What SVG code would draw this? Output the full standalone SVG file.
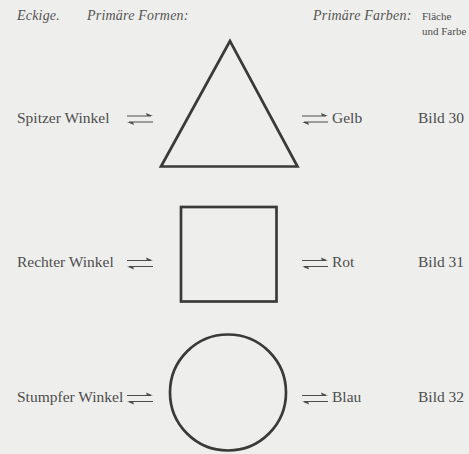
<svg xmlns="http://www.w3.org/2000/svg" width="469" height="454" viewBox="0 0 469 454">
<style>
.t{font-family:"Liberation Serif","DejaVu Serif",serif;font-size:15.5px;fill:#4d4d4d}
.h{font-family:"Liberation Serif","DejaVu Serif",serif;font-size:14px;font-style:italic;fill:#555;letter-spacing:0.2px}
.s{font-family:"Liberation Serif","DejaVu Serif",serif;font-size:11px;fill:#4d4d4d}
.shape{fill:none;stroke:#3a3a3a;stroke-width:2.7}
.arr{stroke:#4d4d4d;stroke-width:1.2;fill:none}
.head{fill:#4d4d4d}
</style>
<rect width="469" height="454" fill="#eeeeec"/>
<g id="header">
<text class="h" x="17" y="20">Eckige.</text>
<text class="h" x="87" y="20">Primäre Formen:</text>
<text class="h" x="313" y="20">Primäre Farben:</text>
<text class="s" x="422" y="20">Fläche</text>
<text class="s" x="422" y="35">und Farbe</text>
</g>
<g id="spitzer-winkel"><text class="t" x="17" y="123">Spitzer Winkel</text></g>
<g id="rechter-winkel"><text class="t" x="17" y="267">Rechter Winkel</text></g>
<g id="stumpfer-winkel"><text class="t" x="17" y="402">Stumpfer Winkel</text></g>
<g id="dreieck"><polygon class="shape" points="230,41 161,166.5 297.5,166.5"/></g>
<g id="quadrat"><rect class="shape" x="181" y="207" width="95.5" height="94.5"/></g>
<g id="kreis"><circle class="shape" cx="228" cy="392.5" r="58"/></g>
<g id="gelb"><text class="t" x="332" y="123">Gelb</text></g>
<g id="rot"><text class="t" x="332" y="267">Rot</text></g>
<g id="blau"><text class="t" x="332" y="402">Blau</text></g>
<g id="bild30"><text class="t" x="418" y="123">Bild 30</text></g>
<g id="bild31"><text class="t" x="418" y="267">Bild 31</text></g>
<g id="bild32"><text class="t" x="418" y="402">Bild 32</text></g>
<defs>
<g id="dbl">
<path class="arr" d="M0,0 H24 M2,6 H26"/>
<path class="head" d="M26,0 L19,-3 L20,0 Z M0,6 L7,9 L6,6 Z"/>
</g>
</defs>
<g id="connectors">
<use href="#dbl" x="127" y="116"/>
<use href="#dbl" x="127" y="260.5"/>
<use href="#dbl" x="127" y="395.5"/>
<use href="#dbl" x="302" y="116"/>
<use href="#dbl" x="302" y="260.5"/>
<use href="#dbl" x="302" y="395.5"/>
</g>
</svg>
